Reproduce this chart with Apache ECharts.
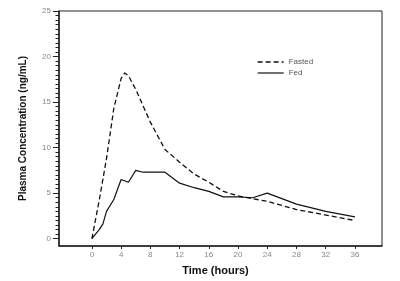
<!DOCTYPE html>
<html>
<head>
<meta charset="utf-8">
<script src="https://cdn.jsdelivr.net/npm/echarts@6/dist/echarts.min.js"></script>
<style>
  html, body { margin: 0; padding: 0; background: #fff; }
  #main { width: 400px; height: 281px; }
</style>
</head>
<body>
<div id="main"></div>
<script>
// 时间点 (hours) 和浓度 (ng/mL)
var fastedTime = [0, 1, 2, 3, 4, 4.5, 5, 6, 8, 10, 12, 14, 16, 18, 20, 24, 28, 32, 36];
var fastedConc = [0, 4.2, 8.8, 14.3, 17.6, 18.2, 17.9, 16.4, 12.8, 9.8, 8.4, 7.1, 6.2, 5.2, 4.7, 4.1, 3.2, 2.6, 2.0];
var fedTime = [0, 1, 1.5, 2, 3, 4, 5, 6, 7, 8, 10, 12, 14, 16, 18, 20, 22, 24, 28, 32, 36];
var fedConc = [0, 1.0, 1.6, 3.0, 4.3, 6.5, 6.2, 7.5, 7.3, 7.3, 7.3, 6.1, 5.6, 5.2, 4.6, 4.6, 4.5, 5.0, 3.8, 3.0, 2.4];
var xTicks = [0, 4, 8, 12, 16, 20, 24, 28, 32, 36];
var yTicks = [0, 5, 10, 15, 20, 25];
var yMinorTicks = [];
for (var i = 0; i <= 50; i++) {
    yMinorTicks.push(i / 2);
}

var pair = function (xs, ys) {
    return xs.map((x, i) => [x, ys[i]]);
};

var myChart = echarts.init(document.querySelector("#main"));
var font = "Liberation Sans, Arial, sans-serif";
var option = {
    animation: false,
    grid: {
        left: 59,
        top: 11,
        right: 18,
        bottom: 35,
        show: true,
        borderColor: "#222",
        borderWidth: 1
    },
    legend: {
        left: 252,
        top: 53,
        orient: "vertical",
        itemWidth: 26,
        itemHeight: 8,
        itemGap: 3,
        itemStyle: { opacity: 0, borderWidth: 0 },
        textStyle: {
            color: "#555",
            fontSize: 8,
            fontFamily: font
        },
        data: [
            { name: "Fasted", lineStyle: { type: [5, 3], width: 1.3 } },
            { name: "Fed", lineStyle: { width: 1.2 } }
        ]
    },
    xAxis: {
        type: "value",
        min: -4.5,
        max: 39.7,
        name: "Time (hours)",
        nameLocation: "middle",
        nameGap: 19,
        nameTextStyle: {
            color: "#111",
            fontSize: 11,
            fontWeight: "bold",
            fontFamily: font,
            padding: [0, 10, 0, 0]
        },
        axisLine: {
            onZero: false,
            lineStyle: { color: "#222", width: 1.5 }
        },
        axisTick: {
            customValues: xTicks,
            length: 3,
            lineStyle: { color: "#222" }
        },
        axisLabel: {
            customValues: xTicks,
            color: "#888",
            fontSize: 8,
            margin: 5,
            fontFamily: font
        },
        splitLine: { show: false }
    },
    yAxis: [
        {
            type: "value",
            min: -0.8,
            max: 25,
            name: "Plasma Concentration (ng/mL)",
            nameLocation: "middle",
            nameGap: 31,
            nameTextStyle: {
                color: "#111",
                fontSize: 10,
                fontWeight: "bold",
                fontFamily: font
            },
            axisLine: {
                onZero: false,
                lineStyle: { color: "#222", width: 1.5 }
            },
            axisTick: {
                customValues: yTicks,
                length: 6,
                lineStyle: { color: "#222" }
            },
            axisLabel: {
                customValues: yTicks,
                color: "#888",
                fontSize: 8,
                margin: 8,
                fontFamily: font
            },
            splitLine: { show: false }
        },
        {
            // 小刻度
            type: "value",
            min: -0.8,
            max: 25,
            position: "left",
            axisLine: { show: false, onZero: false },
            axisTick: {
                show: true,
                customValues: yMinorTicks,
                length: 3.5,
                lineStyle: { color: "#222", width: 1 }
            },
            axisLabel: { show: false },
            splitLine: { show: false }
        }
    ],
    series: [
        {
            name: "Fasted",
            type: "line",
            data: pair(fastedTime, fastedConc),
            symbol: "none",
            color: "#111",
            lineStyle: { color: "#111", width: 1.3, type: [5, 3] }
        },
        {
            name: "Fed",
            type: "line",
            data: pair(fedTime, fedConc),
            symbol: "none",
            color: "#111",
            lineStyle: { color: "#111", width: 1.2 }
        }
    ]
};
myChart.setOption(option);
</script>
</body>
</html>
